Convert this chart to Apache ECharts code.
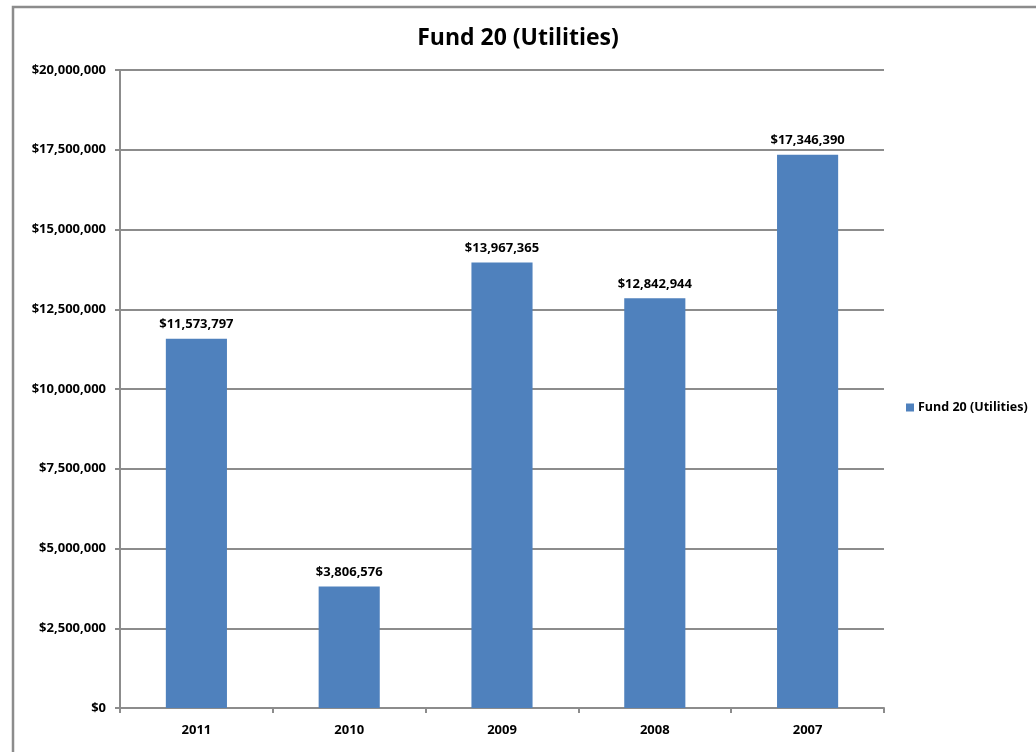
<!DOCTYPE html>
<html>
<head>
<meta charset="utf-8">
<script src="https://cdn.jsdelivr.net/npm/echarts@6/dist/echarts.min.js"></script>
<style>
  html, body { margin: 0; padding: 0; background: #fff; }
  #chart { width: 1036px; height: 752px; }
</style>
</head>
<body>
<div id="chart"></div>
<script>
// data
const years = ['2011', '2010', '2009', '2008', '2007'];
const fundValues = [11573797, 3806576, 13967365, 12842944, 17346390];
const seriesName = 'Fund 20 (Utilities)';

function money(v) {
    return '$' + Math.round(v).toString().replace(/\B(?=(\d{3})+(?!\d))/g, ',');
}

const gray = '#8c8c8c';
const font = '"Open Sans", "Liberation Sans", sans-serif';

const chart = echarts.init(document.getElementById('chart'));
chart.setOption({
    animation: false,
    textStyle: { fontFamily: font },
    title: {
        text: seriesName,
        left: 'center',
        top: 22,
        textStyle: { fontSize: 23, fontWeight: 'bold', color: '#000', fontFamily: font }
    },
    graphic: [{
        type: 'rect',
        shape: { x: 13, y: 7, width: 1100, height: 800 },
        style: { fill: null, stroke: gray, lineWidth: 2.5 },
        silent: true
    }],
    legend: {
        orient: 'vertical',
        left: 901,
        top: 396,
        icon: 'rect',
        itemWidth: 8,
        itemHeight: 8,
        itemGap: 4,
        textStyle: { fontSize: 12.5, fontWeight: 'bold', color: '#000', fontFamily: font, padding: [0, 0, 0, -1] }
    },
    grid: { left: 120, right: 152, top: 70, bottom: 44 },
    xAxis: {
        type: 'category',
        data: years,
        axisLine: { lineStyle: { color: gray, width: 2 } },
        axisTick: { show: true, alignWithLabel: false, length: 5, lineStyle: { color: gray, width: 2 } },
        axisLabel: { color: '#000', fontSize: 13, fontWeight: 'bold', margin: 16 }
    },
    yAxis: {
        type: 'value',
        min: 0,
        max: 20000000,
        interval: 2500000,
        axisLine: { show: true, lineStyle: { color: gray, width: 2 } },
        axisTick: { show: true, length: 5, lineStyle: { color: gray, width: 2 } },
        axisLabel: { color: '#000', fontSize: 13, fontWeight: 'bold', margin: 14, formatter: money },
        splitLine: { lineStyle: { color: gray, width: 2 } }
    },
    series: [{
        name: seriesName,
        type: 'bar',
        data: fundValues,
        barWidth: '40%',
        itemStyle: { color: '#4f81bd' },
        label: {
            show: true,
            position: 'top',
            distance: 8,
            color: '#000',
            fontSize: 13,
            fontWeight: 'bold',
            formatter: p => money(p.value)
        }
    }]
});
</script>
</body>
</html>
